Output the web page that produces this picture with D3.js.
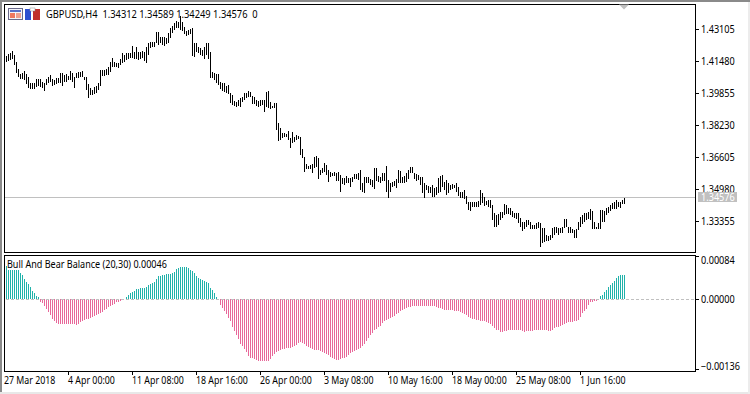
<!DOCTYPE html>
<html><head><meta charset="utf-8">
<style>
html,body{margin:0;padding:0;background:#fff;overflow:hidden}
svg{display:block}
text{font-family:"Noto Sans","DejaVu Sans",sans-serif;font-size:10.5px;fill:#000}
</style>
<script src="https://cdn.jsdelivr.net/npm/d3@7"></script>
</head><body><svg id="c" width="750" height="394"></svg>
<script>
const priceHigh=[
1.4179,1.4189,1.4195,1.4204,1.4184,1.4150,1.4113,1.4087,1.4094,1.4104,
1.4087,1.4074,1.4043,1.4040,1.4040,1.4060,1.4062,1.4060,1.4048,1.4043,
1.4060,1.4074,1.4082,1.4060,1.4057,1.4065,1.4069,1.4091,1.4094,1.4082,
1.4087,1.4077,1.4102,1.4094,1.4074,1.4091,1.4099,1.4099,1.4102,1.4074,
1.4070,1.4036,1.4014,1.4006,1.4023,1.4026,1.4040,1.4107,1.4107,1.4107,
1.4111,1.4124,1.4150,1.4167,1.4150,1.4145,1.4141,1.4162,1.4192,1.4184,
1.4192,1.4192,1.4195,1.4229,1.4201,1.4226,1.4201,1.4201,1.4204,1.4201,
1.4226,1.4246,1.4251,1.4251,1.4251,1.4302,1.4299,1.4277,1.4273,1.4273,
1.4268,1.4294,1.4322,1.4331,1.4348,1.4356,1.4353,1.4382,1.4353,1.4328,
1.4307,1.4311,1.4314,1.4319,1.4246,1.4246,1.4226,1.4218,1.4209,1.4223,
1.4246,1.4246,1.4201,1.4099,1.4094,1.4087,1.4087,1.4048,1.4043,1.4040,
1.4026,1.4031,1.3989,1.3981,1.3950,1.3947,1.3955,1.3964,1.3969,1.3989,
1.3989,1.4001,
1.3998,1.3976,1.3972,1.3955,1.3952,1.3955,1.3955,1.3955,1.3998,1.4001,
1.3947,1.3925,1.3938,1.3942,1.3837,1.3811,1.3786,1.3789,1.3783,1.3798,
1.3761,1.3794,1.3769,1.3777,1.3772,1.3769,1.3705,1.3667,1.3630,1.3620,
1.3625,1.3630,1.3667,1.3671,1.3659,1.3600,1.3608,1.3637,1.3625,1.3600,
1.3591,1.3586,1.3591,1.3583,1.3588,1.3574,1.3557,1.3557,1.3569,1.3557,
1.3557,1.3566,1.3579,1.3579,1.3586,1.3600,1.3532,1.3566,1.3562,1.3562,
1.3552,1.3549,1.3608,1.3608,1.3569,1.3562,1.3583,1.3586,1.3620,1.3549,
1.3535,1.3540,1.3546,1.3552,1.3600,1.3595,1.3562,1.3569,1.3583,1.3600,
1.3613,1.3617,1.3586,1.3579,1.3574,1.3566,1.3562,1.3532,1.3524,1.3518,
1.3515,1.3524,1.3507,1.3515,1.3557,1.3569,1.3574,1.3540,1.3549,1.3532,
1.3524,1.3527,1.3524,1.3532,1.3515,1.3490,1.3490,1.3498,1.3468,1.3439,
1.3439,1.3439,1.3439,1.3439,1.3442,1.3498,1.3481,1.3461,1.3444,1.3447,
1.3447,
1.3422,1.3380,1.3371,1.3377,1.3388,1.3388,1.3426,1.3422,1.3409,1.3405,
1.3393,1.3383,1.3380,1.3380,1.3355,1.3333,1.3338,1.3346,1.3346,1.3338,
1.3321,1.3321,1.3329,1.3333,1.3329,1.3304,1.3304,1.3270,1.3265,1.3270,
1.3304,1.3312,1.3309,1.3304,1.3304,1.3312,1.3349,1.3349,1.3312,1.3309,
1.3299,1.3295,1.3299,1.3338,1.3363,1.3371,1.3380,1.3383,1.3388,1.3400,
1.3393,1.3338,1.3312,1.3329,1.3397,1.3397,1.3393,1.3405,1.3414,1.3422,
1.3434,1.3439,1.3448,1.3436,1.3439,1.3448,1.3459];
const priceLow=[
1.4150,1.4155,1.4158,1.4162,1.4133,1.4094,1.4070,1.4060,1.4060,1.4057,
1.4036,1.4014,1.4011,1.4011,1.4011,1.4019,1.4028,1.4019,1.4014,1.4001,
1.4031,1.4040,1.4048,1.4026,1.4031,1.4036,1.4040,1.4043,1.4026,1.4048,
1.4048,1.4057,1.4057,1.4048,1.4018,1.4065,1.4065,1.4070,1.4074,1.4057,
1.4006,1.3967,1.3981,1.3981,1.3984,1.3992,1.4006,1.4026,1.4077,1.4077,
1.4082,1.4082,1.4099,1.4124,1.4124,1.4121,1.4119,1.4133,1.4145,1.4150,
1.4158,1.4162,1.4167,1.4167,1.4162,1.4162,1.4158,1.4162,1.4167,1.4153,
1.4145,1.4184,1.4218,1.4223,1.4226,1.4243,1.4234,1.4243,1.4234,1.4231,
1.4238,1.4243,1.4268,1.4297,1.4311,1.4319,1.4319,1.4311,1.4306,1.4289,
1.4282,1.4285,1.4289,1.4179,1.4175,1.4201,1.4192,1.4184,1.4179,1.4162,
1.4184,1.4162,1.4065,1.4065,1.4057,1.4040,1.4031,1.4009,1.4003,1.3997,
1.3992,1.3986,1.3938,1.3930,1.3925,1.3921,1.3925,1.3921,1.3947,1.3955,
1.3967,1.3972,
1.3969,1.3935,1.3935,1.3926,1.3921,1.3925,1.3930,1.3896,1.3921,1.3913,
1.3908,1.3913,1.3913,1.3803,1.3747,1.3752,1.3764,1.3769,1.3769,1.3752,
1.3713,1.3735,1.3744,1.3752,1.3755,1.3676,1.3659,1.3591,1.3605,1.3605,
1.3605,1.3583,1.3608,1.3613,1.3554,1.3574,1.3583,1.3591,1.3574,1.3540,
1.3566,1.3569,1.3569,1.3546,1.3546,1.3490,1.3529,1.3524,1.3532,1.3532,
1.3515,1.3540,1.3552,1.3552,1.3549,1.3498,1.3490,1.3485,1.3532,1.3532,
1.3524,1.3515,1.3503,1.3546,1.3540,1.3532,1.3546,1.3546,1.3490,1.3459,
1.3490,1.3515,1.3518,1.3507,1.3532,1.3532,1.3532,1.3535,1.3540,1.3552,
1.3583,1.3583,1.3552,1.3546,1.3549,1.3524,1.3481,1.3456,1.3498,1.3485,
1.3481,1.3461,1.3461,1.3473,1.3481,1.3490,1.3515,1.3498,1.3473,1.3481,
1.3498,1.3501,1.3507,1.3490,1.3468,1.3456,1.3456,1.3451,1.3427,1.3397,
1.3393,1.3410,1.3413,1.3413,1.3410,1.3422,1.3430,1.3417,1.3422,1.3413,
1.3405,
1.3346,1.3309,1.3312,1.3321,1.3346,1.3355,1.3371,1.3377,1.3375,1.3371,
1.3363,1.3355,1.3349,1.3329,1.3312,1.3292,1.3299,1.3312,1.3321,1.3299,
1.3299,1.3299,1.3299,1.3304,1.3207,1.3228,1.3236,1.3241,1.3241,1.3244,
1.3253,1.3270,1.3278,1.3270,1.3278,1.3282,1.3304,1.3309,1.3282,1.3282,
1.3278,1.3256,1.3256,1.3295,1.3312,1.3326,1.3338,1.3346,1.3349,1.3346,
1.3299,1.3299,1.3299,1.3299,1.3299,1.3333,1.3333,1.3371,1.3380,1.3393,
1.3400,1.3400,1.3400,1.3410,1.3405,1.3427,1.34249];
// Bull And Bear Balance, in units of 0.00001
const balanceE5=[
65,57,57,57,57,57,57,50,47,39,34,29,23,15,12,6,3,-5,
-8,-14,-19,-25,-32,-39,-43,-47,-49,-48,-48,-49,-49,-49,-49,-49,-49,-51,-48,-45,-43,-41,-40,-39,-37,-36,-34,-32,-29,-27,-25,-22,-19,-16,-13,-11,-9,-6,-5,-3,-1,0,
4,8,12,14,16,19,19,21,21,21,23,28,29,32,34,39,44,45,47,47,48,49,49,50,53,58,61,62,63,63,63,60,57,55,50,45,41,39,38,36,34,31,21,18,12,4,
-1,-11,-17,-24,-30,-37,-43,-54,-63,-71,-79,-87,-92,-97,-104,-111,
-115,-116,-118,-120,-121,-121,-122,-122,-122,-122,-118,-111,-107,-104,-102,-100,-98,-97,-96,-96,-95,-94,-92,-89,-85,-84,-85,-88,-91,-93,-96,-98,-100,-100,-100,-102,-104,-105,-108,-110,-113,-115,-118,-120,-120,-118,-116,-115,-113,-110,-106,-104,-102,-100,-97,-95,-92,-87,-82,-77,-71,-66,-61,-58,-55,-52,-47,-43,-41,-40,-38,-36,-34,-30,-27,-23,-21,-19,-17,-16,-16,-14,-13,-13,-13,-13,-13,-14,-14,-14,-13,-13,-14,-16,-17,-18,-19,-21,-21,-21,-21,-22,-23,-23,-24,-26,-28,-30,-32,-35,-38,-40,-40,-41,-41,-42,-42,-43,-45,-47,-49,-53,-56,-60,-61,
-64,-65,-63,-63,-61,-61,-61,-60,-60,-60,-61,-63,-65,-63,-63,-63,-63,-61,-60,-60,-60,-60,-60,-61,-63,-63,-61,-57,-55,-54,-52,-50,-48,-47,-45,-45,-45,-43,-42,-41,-35,-28,-24,-19,-12,-6,-5,-3,-3,0,
5,8,13,17,23,28,32,36,41,44,46,47,46];
const timeTickBars=[-1,31,63,95,127,159,191,223,255,287];
const timeTickLabels=["27 Mar 2018","4 Apr 00:00","11 Apr 08:00","18 Apr 16:00","26 Apr 00:00","3 May 08:00","10 May 16:00","18 May 00:00","25 May 08:00","1 Jun 16:00"];
const priceTicks=[1.43105,1.41480,1.39855,1.38230,1.36605,1.34980,1.33355];
const balanceTicks=[0.00084,0,-0.00136];
const lastPrice=1.34576;
const headerText="GBPUSD,H4  1.34312 1.34589 1.34249 1.34576  0";
const indicatorText="Bull And Bear Balance (20,30) 0.00046";

const svg=d3.select("#c");
const L=4,R=695,T1=4,B1=252,T2=255,B2=371;
// narrows text so that it takes the compact width of the reference's UI font
const squeeze=(sel,f)=>sel.each(function(){
 const n=this.getComputedTextLength();
 d3.select(this).attr("textLength",(n*f).toFixed(1)).attr("lengthAdjust","spacingAndGlyphs");
});
// frame of the window
svg.append("rect").attr("x",0).attr("y",0).attr("width",750).attr("height",394).attr("fill","#fff");
svg.append("rect").attr("x",0).attr("y",0).attr("width",750).attr("height",2).attr("fill","#8a8a8a");
svg.append("rect").attr("x",0).attr("y",0).attr("width",2).attr("height",394).attr("fill","#8a8a8a");
svg.append("rect").attr("x",0).attr("y",392).attr("width",750).attr("height",2).attr("fill","#e8e8e8");
svg.append("rect").attr("x",748).attr("y",2).attr("width",2).attr("height",392).attr("fill","#ececec");

const x=d3.scaleLinear().domain([0,309]).range([6,624]);
const yP=d3.scaleLinear().domain([1.34980,1.43105]).range([190,30]);
const yB=d3.scaleLinear().domain([0,0.00084]).range([299,256]);

const crisp=s=>s.attr("shape-rendering","crispEdges");
// last price line
svg.append("line").attr("x1",L).attr("x2",R).attr("y1",Math.floor(yP(lastPrice))+.5).attr("y2",Math.floor(yP(lastPrice))+.5).attr("stroke","#c0c0c0").call(crisp);
// price bars
svg.append("g").selectAll("line").data(priceHigh).join("line")
 .attr("x1",(d,i)=>x(i)+.5).attr("x2",(d,i)=>x(i)+.5)
 .attr("y1",d=>Math.round(yP(d))).attr("y2",(d,i)=>Math.round(yP(priceLow[i])))
 .attr("stroke","#000").call(crisp);
// histogram
const balance=balanceE5.map(v=>v*1e-5);
svg.append("g").selectAll("line").data(balance).join("line")
 .attr("x1",(d,i)=>x(i)+.5).attr("x2",(d,i)=>x(i)+.5)
 .attr("y1",yB(0)).attr("y2",d=>Math.round(yB(d)))
 .attr("stroke",d=>d>=0?"#20B2AA":"#E8689A").call(crisp);
// zero line
svg.append("line").attr("x1",L+2).attr("x2",R).attr("y1",yB(0)+.5).attr("y2",yB(0)+.5)
 .attr("stroke","#c0c0c0").attr("stroke-dasharray","3 2").call(crisp);
// panel borders
[[T1,B1],[T2,B2]].forEach(([a,b])=>{
 svg.append("rect").attr("x",L+.5).attr("y",a+.5).attr("width",R-L).attr("height",b-a)
  .attr("fill","none").attr("stroke","#000").call(crisp);
});
// axes
const axP=svg.append("g").attr("transform",`translate(${R},-1)`).call(d3.axisRight(yP).tickValues(priceTicks).tickSize(4).tickPadding(2).tickFormat(d3.format(".5f")));
const axB=svg.append("g").attr("transform",`translate(${R},0)`).call(d3.axisRight(yB).tickValues(balanceTicks).tickSize(4).tickPadding(2).tickFormat(d3.format(".5f")));
axB.selectAll("text").attr("y",0).attr("transform",d=>{const p=yB(d);const c=Math.min(Math.max(p,260),366);return `translate(0,${c-p})`;});
const axX=svg.append("g").attr("transform",`translate(0,${B2})`).call(d3.axisBottom(x).tickValues(timeTickBars).tickSize(4).tickPadding(2).tickFormat((d,i)=>timeTickLabels[i]));
[axP,axB,axX].forEach(a=>{a.select(".domain").remove();a.selectAll("line").attr("stroke","#000").call(crisp);a.selectAll("text").attr("fill","#000");});
axX.selectAll("text").attr("text-anchor","start").attr("x",-0.5).attr("y",6).attr("dy","0.71em");
axX.selectAll(".tick").filter((d,i)=>i===0).select("line").remove();
squeeze(axP.selectAll("text"),0.87);
squeeze(axB.selectAll("text"),0.87);
squeeze(axX.selectAll("text"),0.84);
// last price tag
const tagY=Math.floor(yP(lastPrice));
svg.append("rect").attr("x",698).attr("y",tagY-5).attr("width",39).attr("height",10).attr("fill","#c0c0c0");
svg.append("text").attr("x",701).attr("y",tagY).attr("dy","0.34em").style("fill","#fff").text(lastPrice.toFixed(5)).call(squeeze,0.87);
// headers
svg.append("text").attr("x",46).attr("y",14).attr("dy","0.34em").attr("xml:space","preserve").style("white-space","pre").text(headerText).call(squeeze,0.887);
svg.append("text").attr("x",7).attr("y",264).attr("dy","0.34em").text(indicatorText).call(squeeze,0.86);
// toolbar icons
const ic=svg.append("g");
ic.append("rect").attr("x",8.5).attr("y",8.5).attr("width",14).attr("height",11).attr("fill","#f4f4fa").attr("stroke","#6a6a8a");
ic.append("rect").attr("x",10).attr("y",10).attr("width",11).attr("height",2).attr("fill","#5a70c8");
ic.append("rect").attr("x",10).attr("y",13).attr("width",5).attr("height",5).attr("fill","#f07860");
ic.append("rect").attr("x",16).attr("y",13).attr("width",5).attr("height",5).attr("fill","#f0a090");
ic.append("rect").attr("x",25).attr("y",9).attr("width",6).attr("height",11).attr("fill","#2c4fd0");
ic.append("rect").attr("x",33).attr("y",9).attr("width",7).attr("height",11).attr("fill","#c0302c");
ic.append("rect").attr("x",30).attr("y",8).attr("width",5).attr("height",3).attr("fill","#fff").attr("stroke","#888").attr("stroke-width",.5);
// scroll marker
const mark=d3.line();
svg.append("path").attr("d",mark([[619,4.5],[629,4.5],[624,9.5]])+"Z").attr("fill","#c0c0c0");
</script></body></html>
